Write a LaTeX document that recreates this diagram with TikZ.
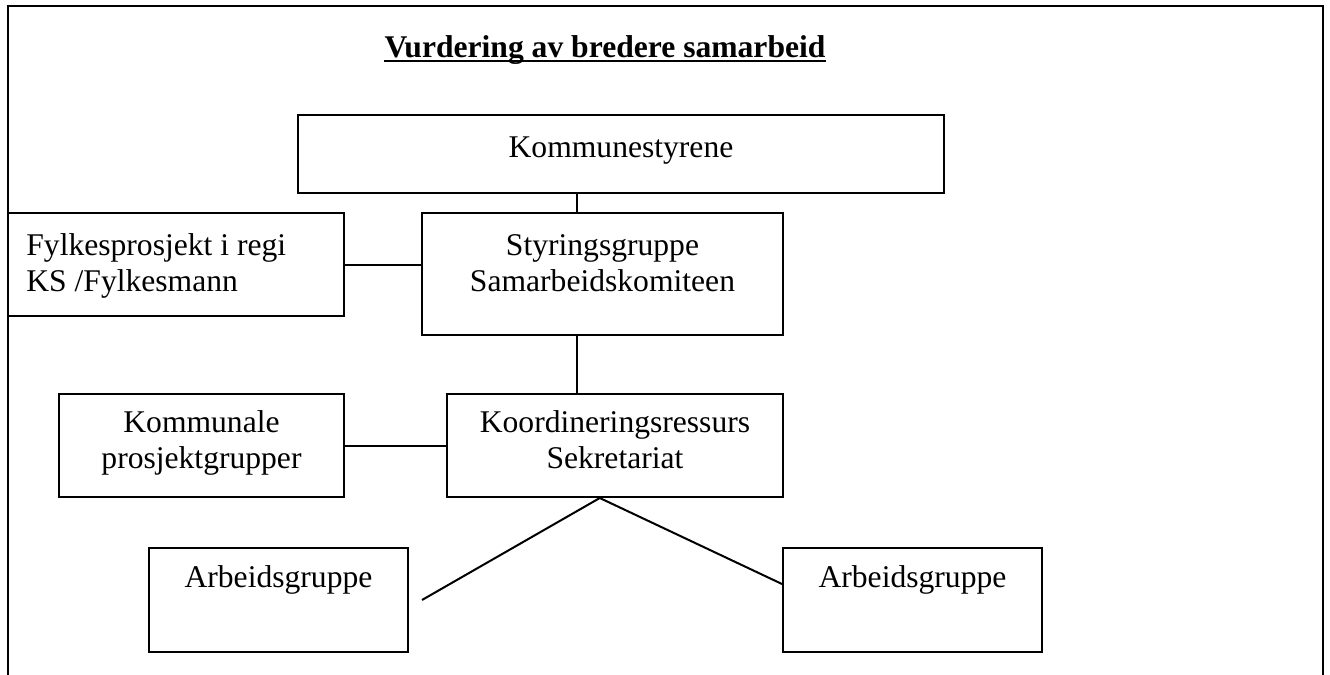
\documentclass[tikz,border=0pt]{standalone}
\usepackage{fontspec}
\setmainfont{Liberation Serif}
\usetikzlibrary{calc}

\tikzset{
  boks/.style={draw, line width=1pt, inner sep=0pt},
  tekst/.style={font=\fontsize{15.8}{17.8}\selectfont, align=center, inner sep=0pt, anchor=base},
  linje/.style={line width=1pt},
}

\begin{document}
\begin{tikzpicture}[x=0.5pt, y=-0.5pt]

    \useasboundingbox (0,0) rectangle (1330,675);

    % ramme rundt (aapen nederst)
    \draw[linje] (8,675) -- (8,6) -- (1323,6) -- (1323,675);

    % tittel
    \node[tekst, font=\fontsize{15.8}{18}\selectfont\bfseries] (tittel) at (605,57) {Vurdering av bredere samarbeid};
    \draw[linje] ([yshift=-2pt]tittel.base west) -- ([yshift=-2pt]tittel.base east);

    % bokser
    \node[boks, minimum width=323pt, minimum height=39pt] (komm) at (621,154) {};
    \node[boks, minimum width=180.5pt, minimum height=61pt] (styr) at (602.5,274) {};
    \node[boks, minimum width=168pt, minimum height=51.5pt] (fylk) at (176,264.5) {};
    \node[boks, minimum width=168pt, minimum height=51.5pt] (koord) at (615,445.5) {};
    \node[boks, minimum width=142.5pt, minimum height=51.5pt] (kprosj) at (201.5,445.5) {};
    \node[boks, minimum width=129.5pt, minimum height=52pt] (arb1) at (278.5,600) {};
    \node[boks, minimum width=129.5pt, minimum height=52pt] (arb2) at (912.5,600) {};

    % tekster i boksene (base = siste linje)
    \node[tekst] (kommT) at ([yshift=-21.5pt]komm.north) {Kommunestyrene};
    \node[tekst] (styrT) at ([yshift=-39.5pt]styr.north) {Styringsgruppe\\Samarbeidskomiteen};
    \node[tekst, anchor=base west, align=left] (fylkT) at ([xshift=9.5pt, yshift=-39.5pt]fylk.north west) {Fylkesprosjekt i regi\\KS /Fylkesmann};
    \node[tekst] (koordT) at ([yshift=-37.5pt]koord.north) {Koordineringsressurs\\Sekretariat};
    \node[tekst] (kprosjT) at ([yshift=-37.5pt]kprosj.north) {Kommunale\\prosjektgrupper};
    \node[tekst] (arb1T) at ([yshift=-20pt]arb1.north) {Arbeidsgruppe};
    \node[tekst] (arb2T) at ([yshift=-20pt]arb2.north) {Arbeidsgruppe};

    % linjer
    \coordinate (akse) at (577,0);
    \coordinate (venstre) at (422,600);
    \coordinate (spiss) at ($(koord.south west)!0.455!(koord.south east)$);

    \draw[linje] (komm.south -| akse) -- (styr.north -| akse);
    \draw[linje] (styr.south -| akse) -- (koord.north -| akse);
    \draw[linje] (fylk.east) -- (styr.west |- fylk.east);
    \draw[linje] (kprosj.east) -- (koord.west);
    \draw[linje] (venstre) -- (spiss) -- ([yshift=8pt]arb2.west);

\end{tikzpicture}
\end{document}
